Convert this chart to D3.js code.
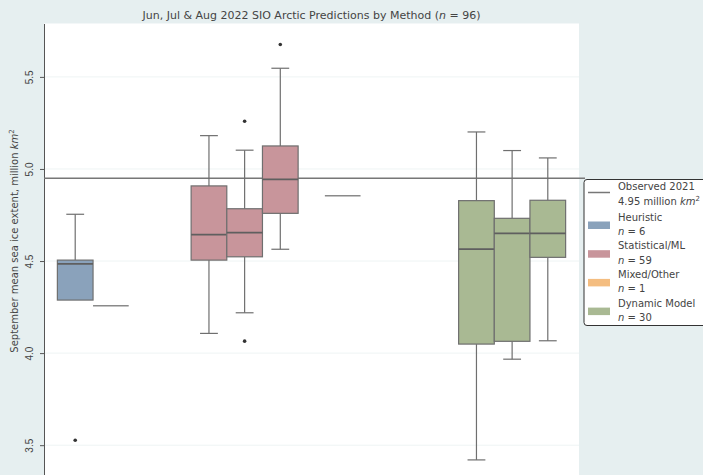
<!DOCTYPE html>
<html>
<head>
<meta charset="utf-8">
<script src="https://cdn.jsdelivr.net/npm/d3@7/dist/d3.min.js"></script>
<style>
  html, body { margin: 0; padding: 0; background: #e6eff0; }
  svg { display: block; font-family: "DejaVu Sans", sans-serif; }
</style>
</head>
<body>
<svg id="chart" width="703" height="475"></svg>
<script>
// Forecast methods (x categories) and submission months (hue within each category)
const methods = ["Heuristic", "Statistical/ML", "Mixed/Other", "Dynamic Model"];
const months = ["Jun", "Jul", "Aug"];
const methodCounts = [6, 59, 1, 30];
const methodColors = ["#8aa2bb", "#c8959b", "#f4bd80", "#a9b993"];

// Box statistics per month: [month, lower whisker, Q1, median, Q3, upper whisker]
const heuristicBoxes = [
  ["Jun", 4.288, 4.288, 4.485, 4.505, 4.754],
  ["Jul", 4.257, 4.257, 4.257, 4.257, 4.257]
];
const statisticalBoxes = [
  ["Jun", 4.107, 4.505, 4.643, 4.908, 5.181],
  ["Jul", 4.219, 4.523, 4.654, 4.784, 5.102],
  ["Aug", 4.564, 4.759, 4.944, 5.125, 5.547]
];
const mixedBoxes = [
  ["Jun", 4.855, 4.855, 4.855, 4.855, 4.855]
];
const dynamicBoxes = [
  ["Jun", 3.420, 4.049, 4.565, 4.828, 5.201],
  ["Jul", 3.967, 4.064, 4.650, 4.732, 5.100],
  ["Aug", 4.067, 4.520, 4.650, 4.830, 5.060]
];
// Outliers: [method, month, value]
const outliers = [
  ["Heuristic", "Jun", 3.527],
  ["Statistical/ML", "Jul", 5.259],
  ["Statistical/ML", "Jul", 4.065],
  ["Statistical/ML", "Aug", 5.676]
];
const observed2021 = 4.95;
const yTicks = [3.5, 4.0, 4.5, 5.0, 5.5];

const boxesByMethod = [heuristicBoxes, statisticalBoxes, mixedBoxes, dynamicBoxes];

const svg = d3.select("#chart");
const plot = { left: 44, right: 579, top: 23.5, bottom: 482 };

// plot background
svg.append("rect")
  .attr("x", plot.left).attr("y", plot.top)
  .attr("width", plot.right - plot.left).attr("height", plot.bottom - plot.top)
  .attr("fill", "#ffffff");

const x = d3.scaleBand().domain(methods).range([plot.left, plot.right]).paddingInner(0).paddingOuter(0);
const hue = d3.scaleBand().domain(months).range([0, x.bandwidth() * 0.8]);
const y = d3.scaleLinear().domain([3.3, 5.79]).range([plot.bottom, plot.top]);
const color = d3.scaleOrdinal().domain(methods).range(methodColors);

// horizontal grid
svg.append("g").selectAll("line").data(yTicks).join("line")
  .attr("x1", plot.left).attr("x2", plot.right)
  .attr("y1", d => y(d)).attr("y2", d => y(d))
  .attr("stroke", "#eef4f4").attr("stroke-width", 1);

// y axis
const yAxis = svg.append("g")
  .attr("transform", `translate(${plot.left},0)`)
  .call(d3.axisLeft(y).tickValues(yTicks).tickFormat(d3.format(".1f")).tickSize(4).tickSizeOuter(0));
yAxis.select(".domain").attr("stroke", "#555").attr("stroke-width", 1);
yAxis.selectAll(".tick line").attr("stroke", "#555");
yAxis.selectAll(".tick text")
  .attr("font-size", 10).attr("fill", "#444")
  .attr("x", 0).attr("dy", 0)
  .attr("text-anchor", "middle")
  .attr("transform", "translate(-11,0) rotate(-90)");

// y axis label
const ylab = svg.append("text")
  .attr("transform", "translate(18,241) rotate(-90)")
  .attr("text-anchor", "middle")
  .attr("font-size", 10).attr("fill", "#444");
ylab.append("tspan").text("September mean sea ice extent, million ");
ylab.append("tspan").attr("font-style", "italic").text("km");
ylab.append("tspan").attr("font-size", 7).attr("dy", -4).text("2");

// title
const title = svg.append("text")
  .attr("x", (plot.left + plot.right) / 2).attr("y", 19)
  .attr("text-anchor", "middle").attr("font-size", 11).attr("fill", "#444");
title.append("tspan").text("Jun, Jul & Aug 2022 SIO Arctic Predictions by Method (");
title.append("tspan").attr("font-style", "italic").text("n");
title.append("tspan").text(" = 96)");

// observed 2021 extent
svg.append("line")
  .attr("x1", plot.left).attr("x2", plot.right + 6)
  .attr("y1", y(observed2021)).attr("y2", y(observed2021))
  .attr("stroke", "#777").attr("stroke-width", 1.5);

const edge = "#6f6f6f";
const boxG = svg.append("g");
methods.forEach((m, mi) => {
  const groupStart = x(m) + x.bandwidth() * 0.1;
  boxesByMethod[mi].forEach(b => {
    const [month, lo, q1, med, q3, hi] = b;
    const bx = groupStart + hue(month);
    const bw = hue.bandwidth();
    const cx = bx + bw / 2;
    const g = boxG.append("g");
    // whiskers
    g.append("line").attr("x1", cx).attr("x2", cx).attr("y1", y(q3)).attr("y2", y(hi))
      .attr("stroke", edge).attr("stroke-width", 1.2);
    g.append("line").attr("x1", cx).attr("x2", cx).attr("y1", y(q1)).attr("y2", y(lo))
      .attr("stroke", edge).attr("stroke-width", 1.2);
    if (hi > q3) {
      g.append("line").attr("x1", cx - bw / 4).attr("x2", cx + bw / 4).attr("y1", y(hi)).attr("y2", y(hi))
        .attr("stroke", edge).attr("stroke-width", 1.2);
    }
    if (lo < q1) {
      g.append("line").attr("x1", cx - bw / 4).attr("x2", cx + bw / 4).attr("y1", y(lo)).attr("y2", y(lo))
        .attr("stroke", edge).attr("stroke-width", 1.2);
    }
    // box
    g.append("rect")
      .attr("x", bx).attr("y", y(q3)).attr("width", bw).attr("height", y(q1) - y(q3))
      .attr("fill", color(m)).attr("stroke", edge).attr("stroke-width", 1.2);
    // median
    g.append("line").attr("x1", bx).attr("x2", bx + bw).attr("y1", y(med)).attr("y2", y(med))
      .attr("stroke", q1 === q3 ? "#8a8a8a" : "#5f5f5f").attr("stroke-width", q1 === q3 ? 1.5 : 1.8);
  });
});

// outliers
svg.append("g").selectAll("circle").data(outliers).join("circle")
  .attr("cx", d => x(d[0]) + x.bandwidth() * 0.1 + hue(d[1]) + hue.bandwidth() / 2)
  .attr("cy", d => y(d[2]))
  .attr("r", 1.8).attr("fill", "#333");

// legend
const lg = svg.append("g").attr("transform", "translate(584,179.5)");
lg.append("rect").attr("x", 0).attr("y", 0).attr("width", 130).attr("height", 146)
  .attr("rx", 3).attr("fill", "#ffffff").attr("stroke", "#333").attr("stroke-width", 1);
lg.append("line").attr("x1", 4).attr("x2", 26).attr("y1", 13).attr("y2", 13)
  .attr("stroke", "#777").attr("stroke-width", 1.5);
lg.append("text").attr("x", 34).attr("y", 10).attr("font-size", 10).attr("fill", "#444").text("Observed 2021");
const obsT = lg.append("text").attr("x", 34).attr("y", 25).attr("font-size", 10).attr("fill", "#444");
obsT.append("tspan").text(d3.format(".2f")(observed2021) + " million ");
obsT.append("tspan").attr("font-style", "italic").text("km");
obsT.append("tspan").attr("font-size", 7).attr("dy", -4).text("2");

methods.forEach((m, i) => {
  const top = 41 + i * 28.7;
  lg.append("rect").attr("x", 4).attr("y", top + 1).attr("width", 22).attr("height", 7.5)
    .attr("fill", color(m));
  lg.append("text").attr("x", 34).attr("y", top).attr("font-size", 10).attr("fill", "#444").text(m);
  const nt = lg.append("text").attr("x", 34).attr("y", top + 14.5).attr("font-size", 10).attr("fill", "#444");
  nt.append("tspan").attr("font-style", "italic").text("n");
  nt.append("tspan").text(" = " + methodCounts[i]);
});
</script>
</body>
</html>
